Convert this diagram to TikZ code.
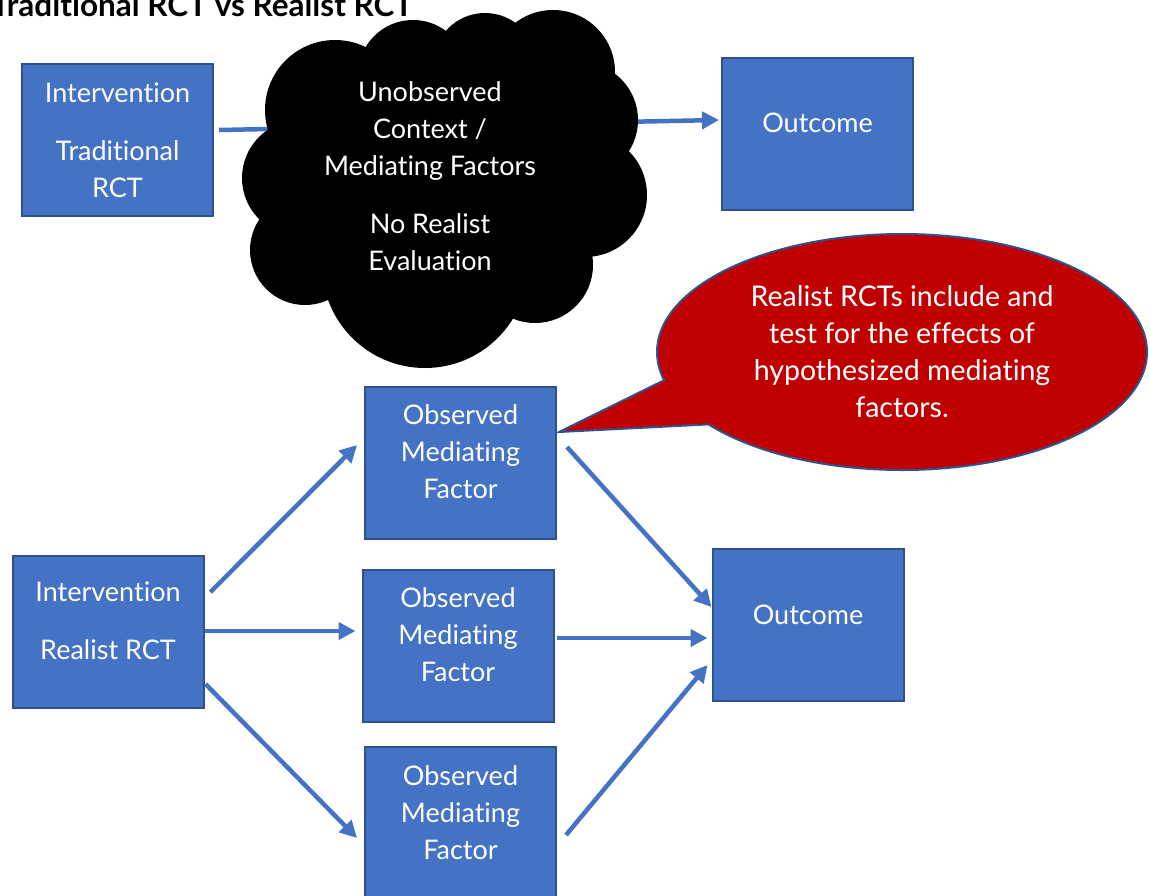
\documentclass[tikz,border=0pt]{standalone}
\usepackage{fontspec}
\setmainfont{Lato}[Ligatures=NoCommon]
\usetikzlibrary{shapes.symbols,shapes.callouts,arrows.meta}
\definecolor{boxblue}{HTML}{4472C4}
\definecolor{boxedge}{HTML}{2F528F}
\definecolor{calloutred}{HTML}{C00000}
\begin{document}
\begin{tikzpicture}[x=1pt,y=-1pt, font=\fontsize{27}{37}\selectfont,
  box/.style={draw=boxedge, line width=2pt, fill=boxblue, minimum width=191pt, minimum height=152pt, inner sep=0pt},
  txt/.style={text=white, align=center, inner sep=0pt},
  conn/.style={draw=boxblue, line width=4.5pt, -{Triangle[length=17pt,width=17pt]}},
  puff/.style={fill=black}]
\useasboundingbox (0,0) rectangle (1150,895);
% title
\node[anchor=base west, font=\fontsize{31.5}{36}\selectfont\bfseries, inner sep=0pt] (title) at (-9,16) {Traditional RCT vs Realist RCT};
% top row
\node[box] (t1) at (117.5,140) {};
\node[txt] (t1t) at (117.5,140) {Intervention\\[21pt]Traditional\\RCT};
\node[box] (o1) at (817.5,133.5) {};
\node[txt] (o1t) at ([yshift=10.5pt]o1.center) {Outcome};
\draw[conn] ([shift={(5,-10)}]t1.east) -- ([shift={(-2,-13.5)}]o1.west);
% cloud drawn as a union of puffs
\fill[puff] (443,185) circle[radius=150pt];
\fill[puff] (300,178) circle[radius=58pt];
\fill[puff] (335,110) circle[radius=70pt];
\fill[puff] (413,75) circle[radius=55pt];
\fill[puff] (485,65) circle[radius=52pt];
\fill[puff] (553,72) circle[radius=62pt];
\fill[puff] (580,120) circle[radius=58pt];
\fill[puff] (585,195) circle[radius=62pt];
\fill[puff] (535,265) circle[radius=58pt];
\fill[puff] (425,265) circle[radius=103pt];
\fill[puff] (305,250) circle[radius=55pt];
\node[txt] (cloudt) at (430,176.5) {Unobserved\\Context /\\Mediating Factors\\[21pt]No Realist\\Evaluation};
% bottom
\node[box] (r1) at (108,631.5) {};
\node[txt] (r1t) at ([yshift=10.5pt]r1.center) {Intervention\\[21pt]Realist RCT};
\node[box] (mA) at (460.5,462.5) {};
\node[txt] (mAt) at ([yshift=10.5pt]mA.center) {Observed\\Mediating\\Factor};
\node[box] (mB) at (458,645.5) {};
\node[txt] (mBt) at ([yshift=10.5pt]mB.center) {Observed\\Mediating\\Factor};
\node[box] (mC) at (460.5,823) {};
\node[txt] (mCt) at ([yshift=10.5pt]mC.center) {Observed\\Mediating\\Factor};
\node[box] (o2) at (808,625) {};
\node[txt] (o2t) at ([yshift=10.5pt]o2.center) {Outcome};
% callout
\node[ellipse callout, fill=calloutred, draw=boxedge, line width=2pt, minimum width=490pt, minimum height=236pt, callout absolute pointer={(559,432)}, callout pointer arc=24, txt, font=\fontsize{28.5}{37}\selectfont] (call) at (902,352) {Realist RCTs include and\\test for the effects of\\hypothesized mediating\\factors.};
% connectors
\draw[conn] ([shift={(6,-39.5)}]r1.east) -- ([shift={(-7,-17.5)}]mA.west);
\draw[conn] ([shift={(0,-0.5)}]r1.east) -- ([shift={(-6,-14.5)}]mB.west);
\draw[conn] ([shift={(1,52.5)}]r1.east) -- ([shift={(-7,15)}]mC.west);
\draw[conn] ([shift={(10,-15.5)}]mA.east) -- ([shift={(0,-18)}]o2.west);
\draw[conn] ([shift={(2,-7.5)}]mB.east) -- ([shift={(-4,13)}]o2.west);
\draw[conn] ([shift={(9,12)}]mC.east) -- ([shift={(-4,40)}]o2.west);
\end{tikzpicture}
\end{document}
